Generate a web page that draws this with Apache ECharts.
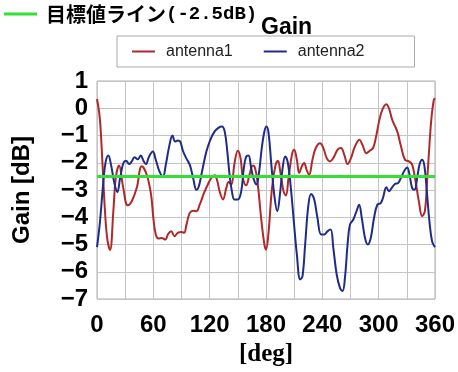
<!DOCTYPE html>
<html>
<head>
<meta charset="utf-8">
<script src="https://cdn.jsdelivr.net/npm/echarts@6/dist/echarts.min.js"></script>
<style>html,body{margin:0;padding:0;background:#fff;}#c{width:458px;height:372px;}</style>
</head>
<body>
<div id="c"></div>
<script>
// angle [deg], gain [dB]
var antenna1 = [
[0,0.34],[3,-0.37],[5.7,-1.95],[8.5,-3.78],[11,-4.8],[13.9,-5.2],[17.4,-3.78],[20,-2.56],[23.5,-2.1],[28,-2.93],
[32.7,-3.56],[37,-3.41],[42.3,-2.93],[47.7,-2.13],[53,-2.44],[57.6,-3.17],[60,-4.02],[62.6,-4.63],[65.5,-4.78],[69,-4.76],
[72.6,-4.82],[76,-4.6],[79,-4.51],[82.6,-4.7],[86,-4.57],[90,-4.54],[92.8,-4.57],[95.3,-4.27],[98.8,-3.84],[102.4,-3.76],
[105.9,-3.78],[109.4,-3.54],[114,-3.11],[118.3,-2.78],[121.8,-2.56],[125.3,-2.46],[128.2,-2.68],[130.6,-3.05],[134.2,-3.35],[137.7,-2.93],
[140.2,-2.71],[143,-2.8],[146.5,-2.01],[150,-1.56],[152.9,-1.83],[155.4,-2.56],[158.9,-2.83],[162.4,-2.44],[166,-2.1],[168.4,-2.2],
[171.3,-2.8],[174.8,-4.02],[178.3,-5.0],[180,-5.18],[182.6,-4.6],[186.4,-2.93],[189.9,-2.13],[192.7,-1.93],[195.2,-2.32],[198.7,-3.05],
[201.2,-3.2],[204,-2.56],[207.6,-1.71],[210,-1.52],[212.9,-1.89],[215.3,-2.38],[218.2,-2.13],[220.6,-2.01],[223.5,-2.29],[225.9,-2.44],
[229.5,-1.89],[233,-1.46],[237.6,-1.28],[241.1,-1.46],[244.7,-1.83],[248.2,-1.95],[251.7,-1.83],[256.3,-1.52],[259.9,-1.46],[263.4,-1.71],
[266.9,-2.05],[270.5,-1.83],[274,-1.46],[277.5,-1.22],[279.5,-1.16],[282.7,-1.34],[287,-1.65],[290.5,-1.56],[294,-1.46],[296.9,-1.1],
[300.4,-0.49],[303.9,-0.06],[308.2,0.15],[311,0.0],[314.5,-0.43],[319.8,-0.85],[323.4,-1.34],[328,-1.89],[332.2,-1.95],[335.7,-2.07],
[339.3,-2.68],[342.8,-3.41],[346.3,-3.96],[349.2,-3.78],[351.6,-2.68],[354.1,-1.34],[356.2,-0.37],[358.7,0.3],[360,0.37]
];
var antenna2 = [
[0,-5.1],[3.2,-4.15],[6.8,-2.68],[9.3,-1.95],[12.1,-1.73],[14.9,-2.07],[18.5,-2.74],[21.7,-3.07],[24.6,-2.56],[28.1,-2.01],
[31,-1.93],[34.2,-2.05],[37,-1.95],[39.9,-1.8],[43.4,-1.87],[46.6,-1.73],[49.5,-1.93],[52,-2.05],[55.5,-1.77],[59.4,-1.59],
[62.6,-1.89],[66.5,-2.32],[70.1,-2.52],[73.3,-2.07],[76.9,-1.4],[80.4,-1.0],[83.3,-1.22],[86.1,-1.18],[88.6,-1.22],[91.5,-1.56],
[95,-1.83],[98.8,-2.07],[102.4,-2.56],[105.9,-2.99],[108.4,-2.87],[111.9,-2.32],[116.5,-1.59],[120.7,-1.16],[125.3,-0.85],[129.6,-0.71],
[133.1,-0.67],[136,-0.85],[138.8,-1.59],[141.2,-2.44],[143.7,-3.05],[146.5,-3.35],[150,-3.35],[153.6,-3.05],[156.4,-2.2],[158.9,-1.77],
[161.4,-1.73],[164.2,-2.2],[167.1,-2.62],[169.9,-2.8],[172.3,-2.44],[175.5,-1.46],[178.3,-0.85],[180.5,-0.67],[182.7,-0.9],[185.7,-2.07],
[189.2,-3.29],[192,-3.78],[195.2,-3.05],[197.7,-2.2],[200.5,-1.77],[203.3,-2.01],[206.5,-2.93],[209.3,-4.02],[212.9,-5.37],[216.4,-6.28],
[218.9,-6.16],[221.7,-5.0],[225.2,-3.54],[228.1,-3.15],[231.2,-3.32],[234.8,-4.02],[238.7,-4.63],[242.2,-4.63],[245.7,-4.51],[248.9,-4.45],
[251.7,-5.12],[255.3,-6.1],[258.8,-6.59],[261.6,-6.71],[264.1,-6.22],[266.9,-5.0],[269.4,-4.27],[272.9,-4.09],[276.4,-3.78],[279.2,-3.54],
[282,-4.02],[285.5,-4.76],[288.4,-5.0],[291.6,-4.76],[295.1,-4.02],[298.6,-3.54],[302.2,-3.48],[304.6,-3.29],[308.2,-2.9],[311,-3.05],
[313.8,-2.93],[317.3,-2.78],[320.9,-2.74],[324.4,-2.5],[328,-2.26],[330.4,-2.17],[332.9,-2.44],[335.7,-2.93],[338.2,-2.99],[341,-2.56],
[343.5,-2.07],[346.3,-1.89],[348.8,-2.13],[351.6,-3.17],[354.1,-4.15],[356.9,-4.88],[360,-5.1]
];
var targetLevel = -2.5;
var targetLine = [[0, targetLevel], [360, targetLevel]];
var targetName = '目標値ライン(-2.5dB)';
var xMin = 0, xMax = 360, xStep = 30, xLabelStep = 60;
var yMin = -7, yMax = 1, yStep = 1;

var chart = echarts.init(document.getElementById('c'), null, {renderer: 'canvas'});
var tickFont = {fontFamily: 'Liberation Sans, Arial, sans-serif', fontSize: 24, fontWeight: 'bold', color: '#000'};
chart.setOption({
  animation: false,
  title: {
    text: 'Gain', left: 256, top: 11,
    textStyle: {fontFamily: 'Liberation Sans, Arial, sans-serif', fontSize: 23, fontWeight: 'bold', color: '#000'}
  },
  legend: [
    {
      data: [targetName], left: 4, top: 4, padding: 0,
      icon: 'rect', itemWidth: 33, itemHeight: 3, itemGap: 0,
      formatter: function () { return '{a|目標値ライン}{b|(-2.5dB)}'; },
      textStyle: {
        padding: [0, 0, 0, 4],
        rich: {
          a: {fontFamily: 'Noto Sans CJK JP, sans-serif', fontSize: 20, fontWeight: 'bold', color: '#000', lineHeight: 26},
          b: {fontFamily: 'Liberation Mono, DejaVu Sans Mono, monospace', fontSize: 19, fontWeight: 'bold', color: '#000', lineHeight: 26}
        }
      }
    },
    {
      data: ['antenna1', 'antenna2'], left: 117, top: 36,
      padding: [7, 50, 7, 15],
      borderColor: '#aaaaaa', borderWidth: 1,
      icon: 'rect', itemWidth: 23, itemHeight: 2, itemGap: 31,
      textStyle: {fontFamily: 'Liberation Sans, Arial, sans-serif', fontSize: 16, color: '#222', padding: [0, 0, 0, 6], lineHeight: 17}
    }
  ],
  grid: {left: 97, right: 23, top: 81, bottom: 73, containLabel: false, show: true, borderColor: '#b0b0b0', borderWidth: 1},
  xAxis: {
    type: 'value', min: xMin, max: xMax, interval: xStep,
    name: '[deg]', nameLocation: 'middle', nameGap: 41,
    nameTextStyle: {fontFamily: 'Liberation Serif, DejaVu Serif, serif', fontSize: 25, fontWeight: 'bold', color: '#000'},
    axisLine: {show: false}, axisTick: {show: false},
    splitLine: {show: true, lineStyle: {color: '#c4c4c4', width: 1}},
    axisLabel: Object.assign({margin: 14, formatter: function (v) { return v % xLabelStep === 0 ? String(v) : ''; }}, tickFont)
  },
  yAxis: {
    type: 'value', min: yMin, max: yMax, interval: yStep,
    name: 'Gain [dB]', nameLocation: 'middle', nameGap: 63, nameRotate: 90,
    nameTextStyle: {fontFamily: 'Liberation Sans, Arial, sans-serif', fontSize: 24, fontWeight: 'bold', color: '#000'},
    axisLine: {show: false}, axisTick: {show: false},
    splitLine: {show: true, lineStyle: {color: '#c4c4c4', width: 1}},
    axisLabel: Object.assign({margin: 9, formatter: function (v) { return String(v).replace('-', '\u2212'); }}, tickFont)
  },
  series: [
    {name: 'antenna1', type: 'line', data: antenna1, smooth: 0.4, showSymbol: false, symbol: 'none',
     lineStyle: {color: '#b0282a', width: 2}, itemStyle: {color: '#b0282a'}},
    {name: 'antenna2', type: 'line', data: antenna2, smooth: 0.4, showSymbol: false, symbol: 'none',
     lineStyle: {color: '#1f2b8a', width: 2}, itemStyle: {color: '#1f2b8a'}},
    {name: targetName, type: 'line', data: targetLine, showSymbol: false, symbol: 'none', z: 5,
     lineStyle: {color: '#33e033', width: 3}, itemStyle: {color: '#33e033'}}
  ]
});
</script>
</body>
</html>
